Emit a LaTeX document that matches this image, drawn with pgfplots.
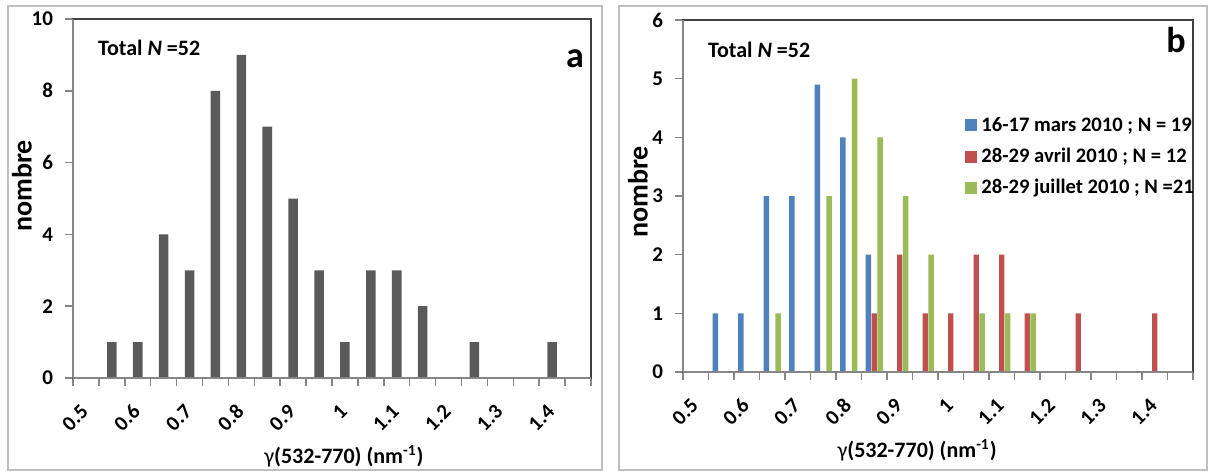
\documentclass[border=0pt]{standalone}
\usepackage{pgfplots}
\pgfplotsset{compat=1.18}
\usepackage{pgfplotstable}
\usepackage{fontspec}
\setmainfont{Carlito}

\definecolor{bgray}{RGB}{90,90,90}
\definecolor{xblue}{RGB}{79,129,189}
\definecolor{xred}{RGB}{192,80,77}
\definecolor{xgreen}{RGB}{155,187,89}
\definecolor{framec}{RGB}{191,191,191}
\definecolor{axgray}{RGB}{134,134,134}

% category centres: bin i (value 0.5+0.05 i) at x = i+0.5
\pgfplotstableread{
x y
1.5 1
2.5 1
3.5 4
4.5 3
5.5 8
6.5 9
7.5 7
8.5 5
9.5 3
10.5 1
11.5 3
12.5 3
13.5 2
15.5 1
18.5 1
}\totaldata
\pgfplotstableread{
x y
1.5 1
2.5 1
3.5 3
4.5 3
5.5 4.9
6.5 4
7.5 2
}\marsdata
\pgfplotstableread{
x y
7.5 1
8.5 2
9.5 1
10.5 1
11.5 2
12.5 2
13.5 1
15.5 1
18.5 1
}\avrildata
\pgfplotstableread{
x y
3.5 1
5.5 3
6.5 5
7.5 4
8.5 3
9.5 2
11.5 1
12.5 1
13.5 1
}\juilletdata

\pgfplotsset{myax/.style={
  scale only axis, anchor=south west, clip=false,
  xmin=0, xmax=20, ymin=0,
  xtick={0,...,20}, xticklabels={},
  extra x ticks={0.5,2.5,...,18.5},
  extra x tick labels={0.5,0.6,0.7,0.8,0.9,1,1.1,1.2,1.3,1.4},
  extra x tick style={major tick length=0pt,
     xticklabel style={xshift=-0.5pt, yshift=-15pt, rotate=45, anchor=east, inner sep=0pt}},
  xtick pos=bottom, ytick pos=left,
  tick align=outside, major tick length=4pt,
  tick style={draw=axgray, line width=0.75pt},
  axis line style={draw=black!75, line width=0.75pt},
  tick label style={font=\bfseries\fontsize{10.5}{12}\selectfont},
  yticklabel style={xshift=-2.5pt},
}}

\begin{document}
\begin{tikzpicture}
\useasboundingbox (0,0) rectangle (604pt,236.5pt);
\draw[framec, line width=0.8pt] (4pt,1.5pt) rectangle (301pt,233.5pt);
\draw[framec, line width=0.8pt] (309.5pt,1.5pt) rectangle (603.5pt,233.5pt);

% ---------- panel a ----------
\begin{axis}[myax, at={(36.5pt,47.5pt)}, width=259pt, height=179.5pt,
  ymax=10, ytick={0,2,4,6,8,10}, yticklabels={0,2,4,6,8,10}]
\addplot[ybar, bar width=0.37, fill=bgray, draw=none] table {\totaldata};
\draw[axgray, line width=0.75pt] (rel axis cs:0,0) -- (rel axis cs:1,0);
\draw[axgray, line width=0.75pt] (rel axis cs:0,0) -- (rel axis cs:0,1);
\node[font=\bfseries\fontsize{11}{13}\selectfont] at (rel axis cs:0.523,0) [yshift=-39pt]
  {\textmd{γ}(532-770) (nm\textsuperscript{-1})};
\end{axis}
\node[anchor=west, font=\bfseries\fontsize{11}{13}\selectfont] at (45.5pt,212.75pt) {Total \textit{N} =52};
\node[anchor=base, font=\bfseries\fontsize{18}{20}\selectfont] at (287.5pt,203pt) {a};
\node[rotate=90, font=\bfseries\fontsize{14}{16}\selectfont] at (11pt,143.5pt) {nombre};

% ---------- panel b ----------
\begin{axis}[myax, at={(341.5pt,50.5pt)}, width=255pt, height=176pt,
  ymax=6, ytick={0,1,2,3,4,5,6}, yticklabels={0,1,2,3,4,5,6},
  legend style={at={(rel axis cs:0.553,0.611)}, anchor=west, draw=none, fill=none,
    inner sep=0pt, font=\bfseries\fontsize{10.3}{12.5}\selectfont, row sep=3pt},
  legend cell align=left]
\addplot[ybar, bar width=0.21, bar shift=-0.23, fill=xblue, draw=none,
  legend image code/.code={\fill[xblue] (0pt,-3pt) rectangle (6pt,3pt);}] table {\marsdata};
\addlegendentry{16-17 mars 2010 ; N = 19}
\addplot[ybar, bar width=0.21, bar shift=0, fill=xred, draw=none,
  legend image code/.code={\fill[xred] (0pt,-3pt) rectangle (6pt,3pt);}] table {\avrildata};
\addlegendentry{28-29 avril 2010 ; N = 12}
\addplot[ybar, bar width=0.21, bar shift=0.23, fill=xgreen, draw=none,
  legend image code/.code={\fill[xgreen] (0pt,-3pt) rectangle (6pt,3pt);}] table {\juilletdata};
\addlegendentry{28-29 juillet 2010 ; N =21}
\draw[axgray, line width=0.75pt] (rel axis cs:0,0) -- (rel axis cs:1,0);
\draw[axgray, line width=0.75pt] (rel axis cs:0,0) -- (rel axis cs:0,1);
\node[font=\bfseries\fontsize{11}{13}\selectfont] at (rel axis cs:0.459,0) [yshift=-39pt]
  {\textmd{γ}(532-770) (nm\textsuperscript{-1})};
\end{axis}
\node[anchor=west, font=\bfseries\fontsize{11}{13}\selectfont] at (350.5pt,211.5pt) {Total \textit{N} =52};
\node[anchor=base, font=\bfseries\fontsize{18}{20}\selectfont] at (588pt,210.5pt) {b};
\node[rotate=90, font=\bfseries\fontsize{14}{16}\selectfont] at (319pt,140.5pt) {nombre};
\end{tikzpicture}
\end{document}
